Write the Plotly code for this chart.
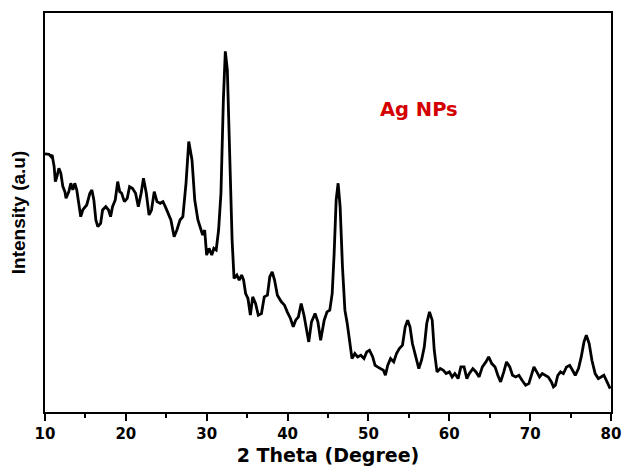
import plotly.graph_objects as go

# XRD pattern of Ag nanoparticles
two_theta = [10.00, 10.49, 10.74, 10.88, 11.13, 11.28, 11.47, 11.72, 11.96, 12.21, 12.46, 12.60,
             12.95, 13.19, 13.44, 13.68, 13.93, 14.18, 14.42, 14.67, 15.16, 15.55, 15.80, 16.04,
             16.29, 16.53, 16.88, 17.12, 17.52, 17.86, 18.11, 18.35, 18.69, 18.99, 19.24, 19.48,
             19.82, 20.17, 20.46, 20.81, 21.20, 21.54, 21.89, 22.18, 22.53, 22.87, 23.17, 23.51,
             23.85, 24.25, 24.59, 24.88, 25.23, 25.57, 25.97, 26.31, 26.70, 27.05, 27.44, 27.78,
             28.18, 28.52, 28.91, 29.26, 29.50, 29.75, 29.99, 30.29, 30.63, 30.88, 31.17, 31.47,
             31.76, 32.06, 32.30, 32.55, 32.84, 33.14, 33.38, 33.73, 34.02, 34.32, 34.56, 34.81,
             35.10, 35.40, 35.69, 36.04, 36.38, 36.77, 37.12, 37.51, 37.80, 38.10, 38.39, 38.74,
             39.23, 39.62, 39.96, 40.36, 40.70, 41.00, 41.34, 41.68, 42.03, 42.32, 42.62, 42.96,
             43.40, 43.75, 44.09, 44.53, 44.88, 45.22, 45.52, 45.76, 46.01, 46.25, 46.50, 46.79,
             47.09, 47.38, 47.68, 47.97, 48.32, 48.66, 49.05, 49.45, 49.79, 50.13, 50.53, 50.82,
             51.12, 51.51, 51.85, 52.10, 52.39, 52.74, 53.13, 53.47, 53.82, 54.21, 54.55, 54.85,
             55.14, 55.44, 55.73, 56.23, 56.57, 56.91, 57.21, 57.55, 57.89, 58.14, 58.48, 58.88,
             59.27, 59.61, 60.01, 60.35, 60.69, 61.09, 61.43, 61.83, 62.17, 62.46, 62.91, 63.30,
             63.69, 64.09, 64.53, 64.87, 65.26, 65.66, 66.00, 66.35, 66.74, 67.08, 67.48, 67.82,
             68.21, 68.61, 69.00, 69.44, 69.84, 70.18, 70.47, 70.82, 71.16, 71.50, 71.89, 72.24,
             72.63, 72.88, 73.12, 73.42, 73.76, 74.11, 74.50, 74.89, 75.24, 75.58, 75.98, 76.32,
             76.66, 76.95, 77.30, 77.64, 78.04, 78.43, 78.77, 79.12, 79.51, 79.90]

intensity = [773, 772, 765, 770, 735, 690, 705, 730, 715, 675, 660, 640,
             660, 685, 665, 685, 665, 625, 585, 605, 620, 655, 665, 635,
             575, 555, 565, 605, 615, 605, 585, 615, 635, 690, 660, 655,
             630, 640, 675, 670, 655, 615, 655, 700, 655, 590, 605, 660,
             630, 625, 630, 615, 595, 575, 525, 545, 575, 585, 685, 810,
             755, 635, 575, 545, 530, 545, 470, 490, 470, 490, 485, 545,
             655, 935, 1080, 1025, 735, 515, 400, 410, 395, 410, 395, 355,
             340, 290, 345, 325, 290, 295, 345, 350, 405, 420, 395, 350,
             330, 320, 300, 280, 255, 275, 285, 325, 290, 245, 210, 270,
             295, 270, 215, 275, 300, 305, 355, 475, 635, 685, 615, 435,
             305, 265, 205, 160, 175, 165, 170, 160, 180, 185, 165, 140,
             135, 130, 125, 110, 140, 160, 150, 175, 190, 200, 255, 275,
             255, 205, 175, 130, 155, 195, 265, 300, 275, 185, 120, 130,
             125, 115, 120, 105, 115, 100, 135, 135, 100, 115, 130, 120,
             105, 135, 150, 165, 145, 135, 110, 90, 120, 150, 135, 110,
             105, 110, 95, 80, 85, 115, 135, 120, 105, 115, 110, 105,
             90, 75, 80, 110, 120, 115, 135, 140, 125, 110, 130, 165,
             210, 230, 205, 155, 115, 100, 105, 110, 90, 70]

x_ticks = [10, 20, 30, 40, 50, 60, 70, 80]

narrow = "Liberation Sans, Arial, sans-serif"
wide = "DejaVu Sans, Verdana, sans-serif"

fig = go.Figure()
fig.add_trace(go.Scatter(x=two_theta, y=intensity, mode="lines",
                         line=dict(color="black", width=2.8), showlegend=False))

fig.add_annotation(x=56.2, y=905, text="Ag NPs", showarrow=False,
                   font=dict(family=wide, size=19.5, color="#d40000", weight="bold"))

fig.update_layout(
    width=622, height=467,
    margin=dict(l=45, r=11, t=13, b=55),
    plot_bgcolor="white", paper_bgcolor="white",
    font=dict(family=narrow, color="black"),
)

fig.update_xaxes(
    range=[10, 80], tickvals=x_ticks, ticks="outside", ticklen=7, tickwidth=2,
    tickcolor="black", showgrid=False, zeroline=False,
    showline=True, linecolor="black", linewidth=2, mirror=True,
    tickfont=dict(family=wide, size=15, weight="bold"),
    minor=dict(dtick=5, tick0=5, ticks="outside", ticklen=4, tickwidth=2, tickcolor="black"),
    title=dict(text="2 Theta (Degree)", font=dict(family=wide, size=19, weight="bold"), standoff=7),
    automargin=False,
)
fig.update_yaxes(
    range=[0, 1195], showticklabels=False, ticks="", showgrid=False, zeroline=False,
    showline=True, linecolor="black", linewidth=2, mirror=True,
    title=dict(text="Intensity (a.u)", font=dict(family=narrow, size=19, weight="bold"), standoff=12),
    automargin=False,
)

# the page body has a default 8px margin; drop it so the figure fills the window
fig.write_html("out.html", config={"displayModeBar": False},
               post_script="document.body.style.margin='0';document.body.style.overflow='hidden';")
